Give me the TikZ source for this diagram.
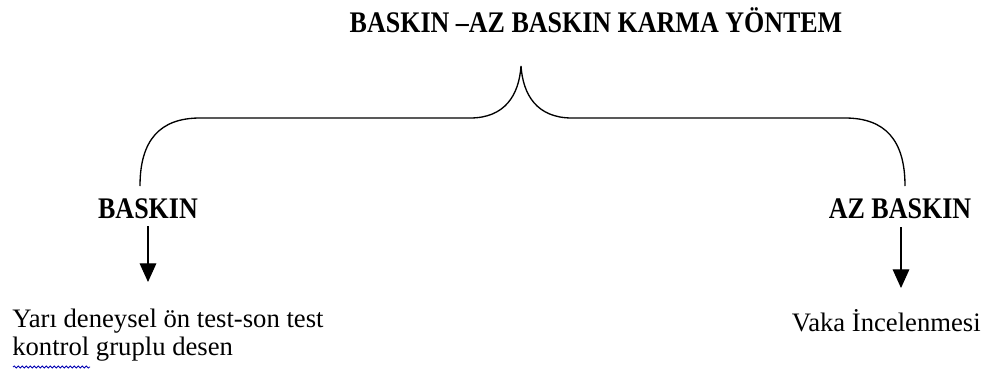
\documentclass[tikz,border=0pt]{standalone}
\usepackage{fontspec}
\setmainfont{Liberation Serif}
\usetikzlibrary{arrows.meta,decorations.pathmorphing}
\tikzset{
  lbl/.style={font=\fontsize{19.5}{22}\selectfont\bfseries, inner sep=0pt, anchor=base, yscale=1.15, transform shape},
  txt/.style={font=\fontsize{20}{20.3}\selectfont, inner sep=0pt, align=left},
  arr/.style={line width=0.8pt, -{Triangle[width=12.5pt,length=14pt]}},
  brace/.style={line width=1pt}
}
\begin{document}
\begin{tikzpicture}[x=0.75pt,y=-0.75pt]
\useasboundingbox (0,0) rectangle (984,379);
\node[lbl] (title) at (596,32) {BASKIN –AZ BASKIN KARMA YÖNTEM};
\coordinate (tip) at (521,66);
\coordinate (lend) at (140,186);
\coordinate (rend) at (905,186);
\draw[brace] (lend) .. controls (140,140) and (160,118) .. (200,118)
  -- (470,118) .. controls (505,118) and (519,95) .. (tip)
  .. controls (523,95) and (537,118) .. (572,118)
  -- (845,118) .. controls (885,118) and (905,140) .. (rend);
\node[lbl] (b) at (148,218) {BASKIN};
\node[lbl] (ab) at (900,218) {AZ BASKIN};
\node[txt, anchor=base west] (bt) at (12,355) {Yarı deneysel ön test-son test\\kontrol gruplu desen};
\node[txt, anchor=base east] (abt) at (981,331) {Vaka İncelenmesi};
\coordinate (bs) at (148,226);
\coordinate (be) at (148,282);
\coordinate (abs) at (901,227);
\coordinate (abe) at (901,288);
\draw[arr] (bs) -- (be);
\draw[arr] (abs) -- (abe);
\coordinate (w1) at (13,367);
\coordinate (w2) at (90,367);
\draw[blue!70!black, line width=0.6pt, decorate, decoration={snake, amplitude=0.8pt, segment length=3pt}] (w1) -- (w2);
\end{tikzpicture}
\end{document}
